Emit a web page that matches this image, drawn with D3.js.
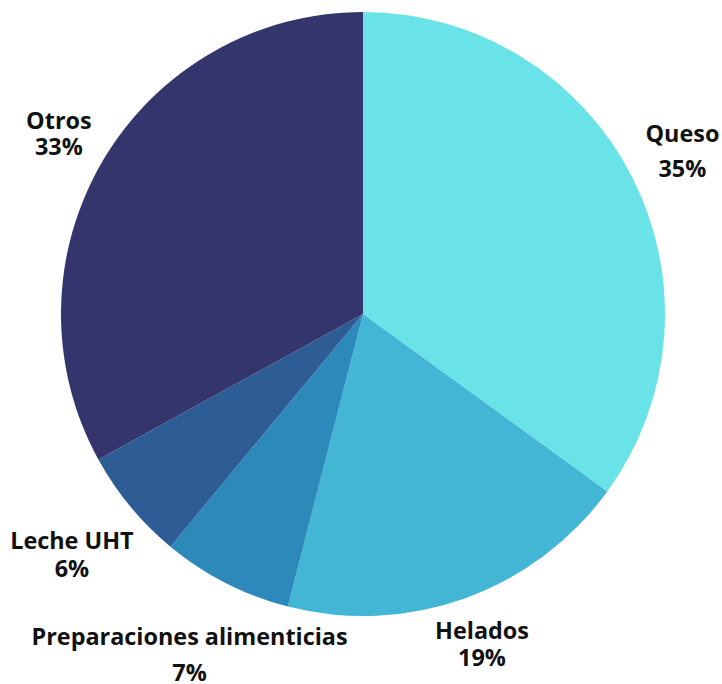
<!DOCTYPE html>
<html><head><meta charset="utf-8">
<script src="https://cdn.jsdelivr.net/npm/d3@7"></script>
<style>body{margin:0;background:#fff}svg{display:block}</style>
</head><body>
<script>
const categories = ["Queso", "Helados", "Preparaciones alimenticias", "Leche UHT", "Otros"];
const values = [35, 19, 7, 6, 33];
const colors = ["#69E3E8", "#43B6D6", "#2D89B9", "#2E5D96", "#33356C"];
// layout: distance of each label block centre from pie centre (in radii) and line spacing (px)
const labelRadiusFactor = [1.187, 1.163, 1.265, 1.251, 1.170];
const labelLineGap = [35, 27, 36, 28, 26];

const W = 722, H = 684, cx = 363, cy = 314, R = 302;
const svg = d3.select("body").append("svg").attr("width", W).attr("height", H);
const g = svg.append("g").attr("transform", `translate(${cx},${cy})`);

const data = categories.map((c, i) => ({name: c, value: values[i], color: colors[i], lr: labelRadiusFactor[i], lh: labelLineGap[i]}));
const pie = d3.pie().value(d => d.value).sort(null);
const arc = d3.arc().innerRadius(0).outerRadius(R);
const arcs = pie(data);

g.selectAll("path").data(arcs).join("path")
  .attr("d", arc).attr("fill", d => d.data.color);

const fs = 23.4;
const lab = g.selectAll("text.lbl").data(arcs).join("text")
  .attr("class", "lbl")
  .attr("text-anchor", "middle")
  .style("font-family", "'Open Sans', sans-serif")
  .style("font-weight", 700)
  .style("font-size", fs + "px")
  .attr("fill", "#111")
  .attr("transform", d => {
    const a = (d.startAngle + d.endAngle) / 2;
    const r = R * d.data.lr;
    return `translate(${Math.sin(a) * r},${-Math.cos(a) * r})`;
  });
lab.append("tspan").attr("x", 0).attr("y", d => -d.data.lh / 2 + fs * 0.357).text(d => d.data.name);
lab.append("tspan").attr("x", 0).attr("y", d => d.data.lh / 2 + fs * 0.357).text(d => d.data.value + "%");
</script>
</body></html>
